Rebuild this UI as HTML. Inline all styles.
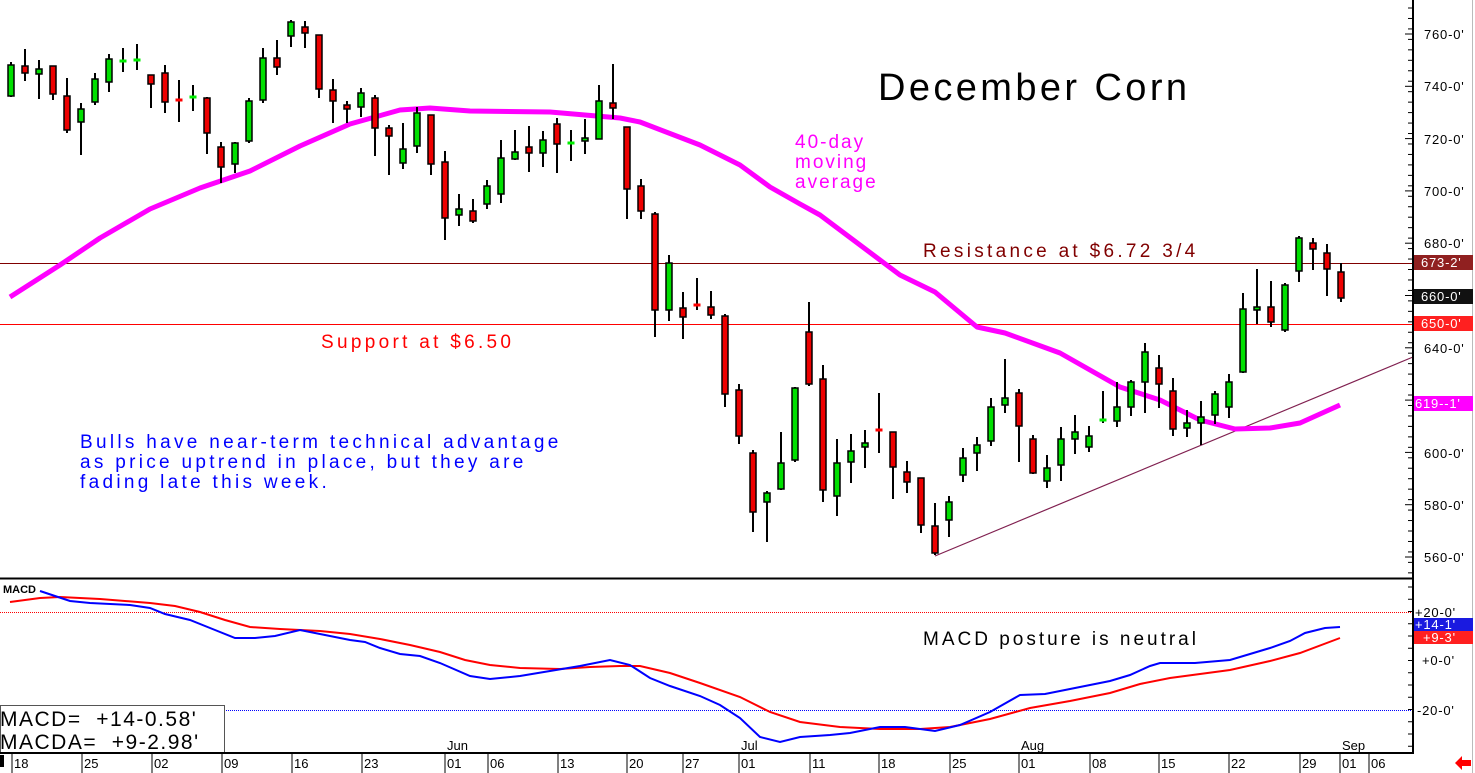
<!DOCTYPE html>
<html><head><meta charset="utf-8"><style>
html,body{margin:0;padding:0;background:#fff;}
svg{display:block;}
text{font-family:"Liberation Sans",sans-serif;white-space:pre;}
</style></head><body>
<svg id="s" width="1475" height="773" viewBox="0 0 1475 773" xmlns="http://www.w3.org/2000/svg">
<rect width="1475" height="773" fill="#fff"/>
<line x1="1472.5" y1="0" x2="1472.5" y2="773" stroke="#bbb" stroke-width="1"/>
<line x1="0" y1="263.5" x2="1413" y2="263.5" stroke="#800000" stroke-width="1"/>
<line x1="0" y1="324.5" x2="1413" y2="324.5" stroke="#ff0000" stroke-width="1"/>
<line x1="935" y1="556" x2="1413" y2="357" stroke="#802050" stroke-width="1.2"/>
<polyline fill="none" stroke="#ff00ff" stroke-width="5" stroke-linejoin="round" points="10,297 60,265 100,238 150,209 200,188 250,171 300,146 350,124 400,110 430,108 470,111 550,112 620,118 640,122 700,145 740,165 770,187 800,204 820,215 860,245 900,275 935,292 977,327 1005,333 1060,353 1120,387 1160,400 1200,420 1235,429 1270,428 1300,423 1340,405"/>
<g id="candles"></g>
<text x="878" y="100" font-size="38" letter-spacing="3.4" fill="#000">December Corn</text>
<text x="795" y="148" font-size="19" letter-spacing="2" fill="#ff00ff">40-day</text>
<text x="795" y="168" font-size="19" letter-spacing="2" fill="#ff00ff">moving</text>
<text x="795" y="188" font-size="19" letter-spacing="2" fill="#ff00ff">average</text>
<text x="923" y="257" font-size="19" letter-spacing="3.3" fill="#800000">Resistance at $6.72 3/4</text>
<text x="321" y="348" font-size="19" letter-spacing="3.3" fill="#ff0000">Support at $6.50</text>
<text x="80" y="448" font-size="19" letter-spacing="3.3" fill="#0000ff">Bulls have near-term technical advantage</text>
<text x="80" y="468" font-size="19" letter-spacing="3.3" fill="#0000ff">as price uptrend in place, but they are</text>
<text x="80" y="488" font-size="19" letter-spacing="3.3" fill="#0000ff">fading late this week.</text>
<line x1="0" y1="578.5" x2="1413" y2="578.5" stroke="#000" stroke-width="2"/>
<line x1="0" y1="612.5" x2="1413" y2="612.5" stroke="#ff0000" stroke-width="1" stroke-dasharray="1,1"/>
<line x1="0" y1="710.5" x2="1413" y2="710.5" stroke="#0000ff" stroke-width="1" stroke-dasharray="1,1"/>
<text x="3" y="593" font-size="11" font-weight="bold" fill="#000">MACD</text>
<polyline fill="none" stroke="#ff0000" stroke-width="2" points="10,602 40,598 60,597 100,599 150,603 175,606 200,612 225,620 250,627 280,629 320,631 350,634 380,639 410,645 440,652 465,660 490,665 520,668 560,669 590,667 620,666 640,666 670,673 700,683 740,697 770,712 800,722 840,727 880,729 920,729 950,727 990,719 1030,708 1070,701 1110,693 1140,684 1170,678 1200,674 1230,670 1270,661 1300,653 1340,638"/>
<polyline fill="none" stroke="#0000ff" stroke-width="2" points="40,591 55,596 70,601 90,603 130,605 150,608 165,614 190,620 215,630 235,638 255,638 275,636 300,630 325,635 350,640 365,642 380,648 400,654 420,656 440,663 470,676 490,679 520,676 550,671 580,666 610,660 630,665 650,678 670,686 700,696 720,705 740,718 760,737 780,742 800,737 830,735 850,733 880,727 905,727 935,731 960,725 990,712 1020,695 1045,694 1070,689 1090,685 1110,681 1130,675 1150,666 1160,663 1195,663 1230,660 1250,654 1270,648 1290,641 1305,633 1325,628 1340,627"/>
<text x="923" y="645" font-size="19" letter-spacing="3" fill="#000">MACD posture is neutral</text>
<rect x="0.5" y="705.5" width="224" height="48" fill="#fff" stroke="#555" stroke-width="1"/>
<text x="0" y="726" font-size="21" letter-spacing="1.5" fill="#000">MACD=  +14-0.58'</text>
<text x="0" y="749" font-size="21" letter-spacing="1.5" fill="#000">MACDA=  +9-2.98'</text>
<line x1="1413" y1="0" x2="1413" y2="754" stroke="#000" stroke-width="2"/>
<line x1="0" y1="753" x2="1413" y2="753" stroke="#000" stroke-width="2"/>
<g id="axis"></g>
<text x="447" y="750" font-size="13" fill="#000">Jun</text>
<text x="741" y="750" font-size="13" fill="#000">Jul</text>
<text x="1021" y="750" font-size="13" fill="#000">Aug</text>
<text x="1342" y="750" font-size="13" fill="#000">Sep</text>
<g font-size="13" fill="#000">
<text x="14" y="768">18</text><text x="84" y="768">25</text><text x="154" y="768">02</text><text x="224" y="768">09</text><text x="294" y="768">16</text><text x="364" y="768">23</text><text x="447" y="768">01</text><text x="490" y="768">06</text><text x="560" y="768">13</text><text x="629" y="768">20</text><text x="685" y="768">27</text><text x="741" y="768">01</text><text x="812" y="768">11</text><text x="881" y="768">18</text><text x="952" y="768">25</text><text x="1021" y="768">01</text><text x="1092" y="768">08</text><text x="1161" y="768">15</text><text x="1231" y="768">22</text><text x="1302" y="768">29</text><text x="1342" y="768">01</text><text x="1371" y="768">06</text>
</g>
<g stroke="#000" stroke-width="1">
<line x1="12" y1="753" x2="12" y2="773"/><line x1="82" y1="753" x2="82" y2="773"/><line x1="152" y1="753" x2="152" y2="773"/><line x1="222" y1="753" x2="222" y2="773"/><line x1="292" y1="753" x2="292" y2="773"/><line x1="362" y1="753" x2="362" y2="773"/><line x1="445" y1="753" x2="445" y2="773"/><line x1="488" y1="753" x2="488" y2="773"/><line x1="558" y1="753" x2="558" y2="773"/><line x1="627" y1="753" x2="627" y2="773"/><line x1="683" y1="753" x2="683" y2="773"/><line x1="739" y1="753" x2="739" y2="773"/><line x1="810" y1="753" x2="810" y2="773"/><line x1="879" y1="753" x2="879" y2="773"/><line x1="950" y1="753" x2="950" y2="773"/><line x1="1019" y1="753" x2="1019" y2="773"/><line x1="1090" y1="753" x2="1090" y2="773"/><line x1="1159" y1="753" x2="1159" y2="773"/><line x1="1229" y1="753" x2="1229" y2="773"/><line x1="1300" y1="753" x2="1300" y2="773"/><line x1="1340" y1="753" x2="1340" y2="773"/><line x1="1369" y1="753" x2="1369" y2="773"/>
</g>
<rect x="0" y="755" width="4" height="12" fill="#000"/>
<g font-size="13" fill="#000" letter-spacing="0.8">
<text x="1424" y="39">760-0'</text><text x="1424" y="91">740-0'</text><text x="1424" y="144">720-0'</text><text x="1424" y="196">700-0'</text><text x="1424" y="248">680-0'</text><text x="1424" y="353">640-0'</text><text x="1424" y="458">600-0'</text><text x="1424" y="510">580-0'</text><text x="1424" y="562">560-0'</text>
</g>
<rect x="1414" y="255" width="59" height="15" fill="#902020"/>
<text x="1421" y="267" font-size="13" fill="#fff" letter-spacing="0.8">673-2'</text>
<rect x="1414" y="289" width="59" height="15" fill="#111"/>
<text x="1421" y="301" font-size="13" fill="#fff" letter-spacing="0.8">660-0'</text>
<rect x="1414" y="316" width="59" height="15" fill="#ff2020"/>
<text x="1421" y="328" font-size="13" fill="#fff" letter-spacing="0.8">650-0'</text>
<rect x="1414" y="396" width="59" height="15" fill="#ff00ff"/>
<text x="1415" y="408" font-size="13" fill="#fff" letter-spacing="0.8">619--1'</text>
<g font-size="13" fill="#000" letter-spacing="0.8">
<text x="1415" y="617">+20-0'</text><text x="1422" y="665">+0-0'</text><text x="1417" y="715">-20-0'</text>
</g>
<rect x="1414" y="618" width="59" height="13" fill="#1a1ae0"/>
<text x="1415" y="629" font-size="13" fill="#fff" letter-spacing="0.8">+14-1'</text>
<rect x="1414" y="631" width="59" height="13" fill="#ff2020"/>
<text x="1423" y="642" font-size="13" fill="#fff" letter-spacing="0.8">+9-3'</text>
<polygon points="1455,763 1462,756 1462,760 1471,760 1471,766 1462,766 1462,770" fill="#ff0000"/>
</svg>
<script>
var NS="http://www.w3.org/2000/svg";
function el(p,t,a){var e=document.createElementNS(NS,t);for(var k in a)e.setAttribute(k,a[k]);p.appendChild(e);return e;}
var d=[
[11,65,96,62,97,'g'],[25,66,73,49,81,'r'],[39,69,74,60,99,'g'],[53,66,94,66,100,'r'],[67,96,130,78,133,'r'],[81,109,122,103,155,'g'],[95,79,102,73,105,'g'],[109,59,82,54,92,'g'],[123,61,61,48,72,'G'],[137,60,60,44,70,'G'],
[151,75,84,75,108,'r'],[165,73,102,65,113,'r'],[179,100,100,80,122,'R'],[193,97,97,85,111,'G'],[207,98,133,97,154,'r'],[221,147,167,142,183,'r'],[235,143,164,142,173,'g'],[249,101,141,98,143,'g'],[263,58,100,48,103,'g'],[277,58,67,40,75,'r'],
[291,22,36,20,47,'g'],[305,27,33,21,48,'r'],[319,35,89,35,98,'r'],[333,90,101,79,123,'r'],[347,105,109,101,123,'r'],[361,93,107,88,117,'g'],[375,98,128,95,156,'r'],[389,128,136,125,175,'r'],[403,149,163,123,169,'g'],[417,113,146,107,153,'g'],
[431,115,164,115,175,'r'],[445,162,218,151,240,'r'],[459,209,215,194,226,'g'],[473,211,221,199,223,'r'],[487,186,204,180,209,'g'],[501,158,194,140,203,'g'],[515,152,159,130,160,'g'],[529,147,153,126,172,'r'],[543,140,153,131,167,'g'],[557,124,144,118,173,'r'],
[571,143,143,130,161,'G'],[585,138,141,119,154,'g'],[599,101,139,85,139,'g'],[613,103,108,64,119,'r'],[627,127,189,127,219,'r'],[641,186,211,179,219,'r'],[655,214,310,212,337,'r'],[669,263,310,255,321,'g'],[683,308,317,292,339,'r'],[697,305,305,278,310,'R'],
[711,307,315,291,319,'r'],[725,316,394,314,407,'r'],[739,390,436,384,444,'r'],[753,453,512,450,532,'r'],[767,493,502,491,542,'g'],[781,463,489,432,490,'g'],[795,388,460,387,462,'g'],[809,332,384,302,386,'r'],[823,379,490,365,502,'r'],[837,463,496,439,516,'g'],
[851,451,462,434,483,'g'],[865,443,447,430,468,'g'],[879,430,430,393,453,'R'],[893,432,467,432,499,'r'],[907,472,482,461,493,'r'],[921,478,525,478,533,'r'],[935,526,553,503,555,'r'],[949,502,520,496,537,'g'],[963,458,475,448,482,'g'],[977,445,453,437,471,'g'],
[991,407,441,398,446,'g'],[1005,398,405,359,413,'g'],[1019,393,426,389,462,'r'],[1033,439,473,435,474,'r'],[1047,468,481,455,488,'g'],[1061,439,465,427,481,'g'],[1075,432,439,415,454,'g'],[1089,436,447,426,452,'g'],[1103,420,420,391,423,'G'],[1117,407,421,382,427,'g'],
[1131,382,407,380,416,'g'],[1145,352,382,343,413,'g'],[1159,368,384,355,408,'r'],[1173,391,429,378,436,'r'],[1187,423,428,410,437,'g'],[1201,417,423,401,445,'g'],[1215,394,415,391,424,'g'],[1229,382,407,374,418,'g'],[1243,309,372,293,373,'g'],[1257,307,310,269,324,'g'],
[1271,307,322,281,327,'r'],[1285,285,330,283,332,'g'],[1299,238,271,236,282,'g'],[1313,243,249,238,270,'r'],[1327,253,269,244,296,'r'],[1341,272,298,263,302,'r']
];
var g=document.getElementById('candles');
d.forEach(function(c){
 var x=c[0];
 el(g,'line',{x1:x,y1:c[3],x2:x,y2:c[4],stroke:'#000','stroke-width':2});
 if(c[5]=='G'||c[5]=='R'){
  el(g,'rect',{x:x-3.5,y:c[1]-1.5,width:7,height:3,fill:c[5]=='G'?'#00ee00':'#ff0000'});
 } else {
  var h=Math.max(c[2]-c[1],3);
  el(g,'rect',{x:x-3,y:c[1],width:6,height:h,fill:c[5]=='g'?'#00e000':'#ee0000',stroke:'#000','stroke-width':1.5});
 }
});
var a=document.getElementById('axis');
for(var y=8;y<578;y+=10.46){el(a,'line',{x1:1413,y1:y,x2:1408,y2:y,stroke:'#000','stroke-width':1});}
for(var p=0;p<=10;p++){var yy=34+p*52.3;el(a,'line',{x1:1413,y1:yy,x2:1405,y2:yy,stroke:'#000','stroke-width':1});}
for(var y2=587;y2<752;y2+=12.25){el(a,'line',{x1:1413,y1:y2,x2:1408,y2:y2,stroke:'#000','stroke-width':1});}
</script>
</body></html>
